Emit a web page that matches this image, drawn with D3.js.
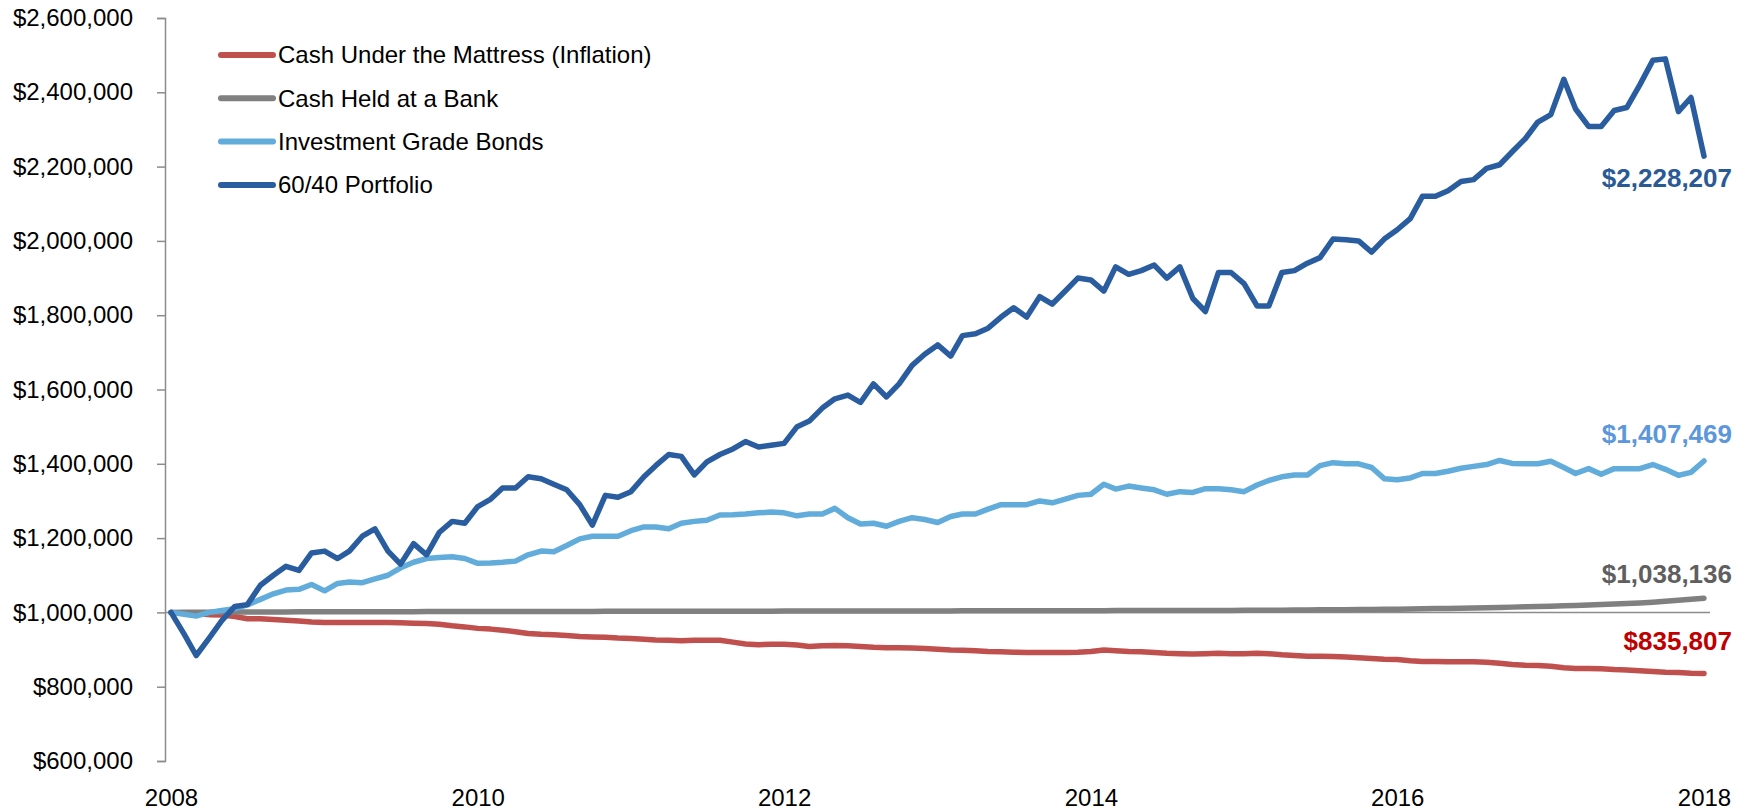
<!DOCTYPE html>
<html>
<head>
<meta charset="utf-8">
<script src="https://cdn.jsdelivr.net/npm/d3@7"></script>
<style>
  body { margin: 0; background: #fff; }
  text { font-family: "Liberation Sans", Arial, sans-serif; }
</style>
</head>
<body>
<div id="chart"></div>
<script>
// chart size
var w = 1752;
var h = 810;

// months: Jan 2008 .. Jan 2018 (121 points)
var startMonth = new Date(2008, 0, 1);
var endMonth = new Date(2018, 0, 1);
var months = d3.timeMonth.range(startMonth, d3.timeMonth.offset(endMonth, 1));

var yTicks = [600, 800, 1000, 1200, 1400, 1600, 1800, 2000, 2200, 2400, 2600]; // $ thousands
var xTickYears = [2008, 2010, 2012, 2014, 2016, 2018];

var names = ["Cash Under the Mattress (Inflation)", "Cash Held at a Bank", "Investment Grade Bonds", "60/40 Portfolio"];
var colors = ["#c0504d", "#808080", "#62acdc", "#2a5d9f"];
var labelColors = ["#c00000", "#5f5f5f", "#5b97da", "#2a5a96"];
var labelOffsets = [-23, -15, -18, 31];

// values in $ thousands, one per month
var mattress = [
  1000, 998, 996, 994, 993, 989, 983, 983, 981, 979, 977, 974,
  973, 973, 973, 973, 973, 973, 972, 971, 970, 968, 964, 961,
  957, 955, 952, 948, 943, 941, 940, 938, 935, 934, 933, 931,
  930, 928, 926, 925, 924, 925, 925, 925, 920, 915, 913, 914,
  914, 912, 908, 910, 911, 910, 908, 906, 905, 905, 904, 903,
  901, 899, 898, 897, 895, 894, 893, 892, 892, 892, 892, 893,
  895, 899, 897, 895, 894, 892, 890, 889, 888, 889, 890, 889,
  889, 890, 889, 886, 884, 882, 882, 881, 880, 878, 876, 874,
  873, 870, 868, 868, 867, 867, 867, 866, 863, 860, 858, 857,
  855, 851, 849, 849, 848, 846, 845, 843, 841, 839, 838, 836,
  835.807
];

var bank = [
  1000.0, 1000.2, 1000.4, 1000.6, 1000.8, 1001.0, 1001.1, 1001.2, 1001.3, 1001.4, 1001.5, 1001.6,
  1001.7, 1001.7, 1001.8, 1001.8, 1001.9, 1001.9, 1002.0, 1002.0, 1002.1, 1002.1, 1002.2, 1002.2,
  1002.3, 1002.3, 1002.4, 1002.4, 1002.5, 1002.5, 1002.6, 1002.6, 1002.7, 1002.7, 1002.8, 1002.8,
  1002.9, 1002.9, 1003.0, 1003.0, 1003.1, 1003.1, 1003.2, 1003.2, 1003.3, 1003.3, 1003.4, 1003.4,
  1003.5, 1003.5, 1003.6, 1003.6, 1003.7, 1003.7, 1003.8, 1003.8, 1003.9, 1003.9, 1004.0, 1004.0,
  1004.1, 1004.1, 1004.2, 1004.2, 1004.3, 1004.3, 1004.4, 1004.4, 1004.5, 1004.5, 1004.6, 1004.6,
  1004.7, 1004.7, 1004.8, 1004.8, 1004.9, 1004.9, 1005.0, 1005.0, 1005.1, 1005.2, 1005.3, 1005.4,
  1005.5, 1005.6, 1005.8, 1006.0, 1006.2, 1006.5, 1006.8, 1007.1, 1007.4, 1007.7, 1008.0, 1008.4,
  1008.8, 1009.2, 1009.7, 1010.2, 1010.8, 1011.4, 1012.0, 1012.7, 1013.4, 1014.2, 1015.0, 1015.9,
  1016.8, 1017.8, 1018.8, 1019.9, 1021.1, 1022.4, 1023.8, 1025.5, 1027.5, 1029.8, 1032.4, 1035.2,
  1038.136
];

var bonds = [
  1000, 995, 990, 1000, 1005, 1010, 1020, 1035, 1050, 1060, 1062, 1075,
  1058, 1078, 1082, 1080, 1090, 1100, 1120, 1135, 1145, 1148, 1150, 1145,
  1132, 1133, 1135, 1138, 1155, 1165, 1163, 1180, 1198, 1205, 1205, 1205,
  1220, 1230, 1230, 1225, 1240, 1245, 1248, 1262, 1263, 1265, 1268, 1270,
  1268, 1260, 1265, 1265, 1280, 1255, 1238, 1240, 1232, 1245, 1255, 1250,
  1242, 1258, 1265, 1265, 1278, 1290, 1290, 1290, 1300, 1295, 1305, 1315,
  1318, 1345, 1332, 1340, 1335, 1330, 1318, 1325, 1323, 1333, 1333, 1330,
  1325, 1343, 1355, 1365, 1370, 1370, 1395, 1403, 1400, 1400, 1390, 1360,
  1357, 1362, 1374, 1374, 1380, 1388, 1393, 1398, 1409, 1401, 1400, 1400,
  1407, 1390, 1374, 1387, 1372, 1387, 1387, 1387, 1398, 1385, 1369, 1377,
  1407.469
];

var portfolio = [
  1000, 942, 884, 931, 978, 1016, 1021, 1073, 1100, 1124, 1113, 1160,
  1165, 1145, 1165, 1205, 1225, 1165, 1130, 1185, 1155, 1215, 1245, 1240,
  1285, 1305, 1335, 1335, 1365, 1360, 1345, 1330, 1290, 1235, 1315, 1310,
  1325, 1365, 1395, 1425, 1420, 1370, 1405, 1425, 1440, 1460, 1445, 1450,
  1455, 1500, 1515, 1550, 1575, 1585, 1565, 1615, 1580, 1615, 1665, 1695,
  1720, 1690, 1745, 1750, 1765, 1795, 1820, 1795, 1850, 1830, 1865, 1900,
  1895, 1865, 1930, 1910, 1920, 1935, 1900, 1930, 1845, 1810, 1915, 1915,
  1885, 1825, 1825, 1915, 1920, 1940, 1955, 2005, 2003, 2000, 1970, 2005,
  2030, 2060, 2120, 2120, 2135, 2160, 2165, 2195, 2205, 2240, 2275, 2320,
  2340, 2435, 2355, 2308, 2308, 2351, 2359, 2420, 2486, 2490, 2348, 2386,
  2228.207
];

var seriesValues = [mattress, bank, bonds, portfolio];

var svg = d3.select("#chart")
    .append("svg")
    .attr("width", w)
    .attr("height", h);

var xScale = d3.scaleTime()
    .domain([startMonth, endMonth])
    .range([171, 1704]);

var yScale = d3.scaleLinear()
    .domain([600, 2600])
    .range([761, 18]);

var axisX = 165;

// Y axis (ticks on the left side of a grey line)
var yAxis = d3.axisLeft(yScale)
    .tickValues(yTicks)
    .tickSize(8)
    .tickPadding(24)
    .tickFormat(function (d) { return d3.format("$,")(d * 1000); });

var yg = svg.append("g")
    .attr("transform", "translate(" + axisX + ",0)")
    .call(yAxis);
yg.select(".domain").attr("stroke", "#8c8c8c").attr("stroke-width", 1.5);
yg.selectAll(".tick line").attr("stroke", "#8c8c8c").attr("stroke-width", 1.5);
yg.selectAll(".tick text")
    .attr("font-family", "Liberation Sans, Arial, sans-serif")
    .attr("font-size", "24px")
    .attr("fill", "#000");

// horizontal line where the category axis crosses ($1,000,000)
svg.append("line")
    .attr("x1", axisX)
    .attr("x2", 1710)
    .attr("y1", yScale(1000))
    .attr("y2", yScale(1000))
    .attr("stroke", "#8c8c8c")
    .attr("stroke-width", 1.5);

// X labels at the bottom
var xAxis = d3.axisBottom(xScale)
    .tickValues(xTickYears.map(function (y) { return new Date(y, 0, 1); }))
    .tickSize(0)
    .tickPadding(0)
    .tickFormat(d3.timeFormat("%Y"));

var xg = svg.append("g")
    .attr("transform", "translate(0,789)")
    .call(xAxis);
xg.select(".domain").remove();
xg.selectAll(".tick text")
    .attr("font-family", "Liberation Sans, Arial, sans-serif")
    .attr("font-size", "24px")
    .attr("fill", "#000")
    .attr("dy", "0.72em");

// lines
var line = d3.line()
    .x(function (d, i) { return xScale(months[i]); })
    .y(function (d) { return yScale(d); });

svg.selectAll(".series")
    .data(seriesValues)
    .enter()
    .append("path")
    .attr("class", "series")
    .attr("d", line)
    .attr("fill", "none")
    .attr("stroke", function (d, i) { return colors[i]; })
    .attr("stroke-width", 5.5)
    .attr("stroke-linejoin", "round")
    .attr("stroke-linecap", "round");

// end value labels
svg.selectAll(".endLabel")
    .data(seriesValues)
    .enter()
    .append("text")
    .attr("class", "endLabel")
    .attr("x", 1732)
    .attr("y", function (d, i) { return yScale(d[d.length - 1]) + labelOffsets[i]; })
    .attr("text-anchor", "end")
    .attr("font-size", "26px")
    .attr("font-weight", "bold")
    .attr("fill", function (d, i) { return labelColors[i]; })
    .text(function (d) { return d3.format("$,.0f")(d[d.length - 1] * 1000); });

// legend
var legend = svg.selectAll(".legend")
    .data(names)
    .enter()
    .append("g")
    .attr("class", "legend")
    .attr("transform", function (d, i) { return "translate(221," + (55 + i * 43.3) + ")"; });

legend.append("line")
    .attr("x1", 0)
    .attr("x2", 52)
    .attr("stroke", function (d, i) { return colors[i]; })
    .attr("stroke-width", 6)
    .attr("stroke-linecap", "round");

legend.append("text")
    .attr("x", 57)
    .attr("dy", "0.35em")
    .attr("font-size", "24px")
    .attr("fill", "#000")
    .text(function (d) { return d; });
</script>
</body>
</html>
